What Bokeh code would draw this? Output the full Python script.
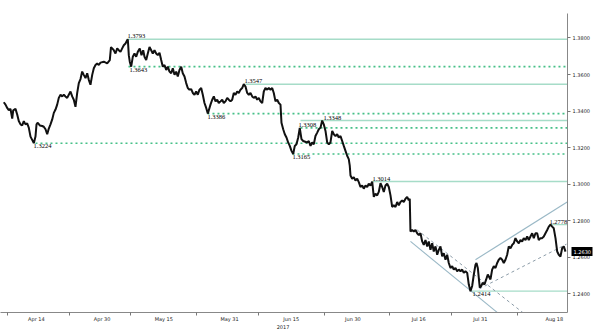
import numpy as np
import pandas as pd
from bokeh.plotting import figure
from bokeh.models import (Range1d, FixedTicker, DatetimeTickFormatter, NumeralTickFormatter, ColumnDataSource,
                          DatetimeAxis, LinearAxis)
from bokeh.core.properties import value
from bokeh.embed import file_html
from bokeh.resources import INLINE

START = "2017-04-06"

# price series: days since START, price
day = [0.07, 0.49, 0.90, 1.29, 1.70, 2.12, 2.36, 2.92, 3.33, 3.72, 4.14, 4.55, 4.94, 5.35, 5.76, 6.15, 6.57, 6.98, 7.37, 7.78,
       8.03, 8.34, 8.83, 9.41, 9.80, 10.22, 10.63, 11.02, 11.43, 11.85, 12.24, 12.65, 13.06, 13.45, 13.87, 14.28, 14.67, 15.08, 15.49, 15.88,
       16.30, 16.71, 17.10, 17.51, 17.93, 18.32, 18.73, 19.14, 19.53, 19.95, 20.36, 20.75, 21.16, 21.58, 21.97, 22.38, 22.79, 23.18, 23.60, 24.40,
       25.22, 25.86, 26.15, 26.44, 26.83, 27.24, 27.66, 28.05, 28.46, 28.87, 29.26, 29.68, 30.09, 30.24, 30.48, 30.72, 31.06, 31.45, 31.87, 32.28,
       32.67, 33.15, 33.57, 33.98, 34.30, 34.71, 35.10, 35.52, 35.93, 36.32, 36.73, 37.14, 37.53, 37.95, 38.36, 38.75, 39.16, 39.58, 39.97, 40.38,
       40.79, 41.18, 41.60, 42.01, 42.40, 42.81, 43.23, 43.61, 44.03, 44.44, 44.83, 45.24, 45.66, 46.05, 46.46, 46.87, 47.26, 47.68, 48.09, 48.48,
       48.89, 49.31, 49.70, 50.11, 50.35, 50.77, 51.16, 51.57, 51.98, 52.37, 52.79, 53.20, 53.59, 54.00, 54.42, 54.81, 55.22, 55.63, 56.02, 56.43,
       56.85, 57.24, 57.65, 58.06, 58.45, 58.87, 59.28, 59.67, 60.08, 60.50, 60.89, 61.30, 61.71, 62.10, 62.51, 62.93, 63.32, 63.73, 64.15, 64.54,
       64.95, 65.36, 65.75, 66.16, 66.58, 66.97, 67.38, 67.62, 68.04, 68.43, 68.84, 69.25, 69.64, 70.06, 70.47, 70.86, 71.27, 71.69, 72.07, 72.49,
       72.90, 73.87, 74.26, 74.68, 75.09, 75.48, 75.89, 76.31, 76.70, 77.11, 77.52, 77.91, 78.33, 78.74, 79.13, 79.54, 79.96, 80.35, 80.76, 81.17,
       81.56, 81.98, 82.39, 82.78, 83.19, 83.60, 83.99, 84.23, 84.41, 84.82, 85.21, 85.62, 86.04, 86.43, 86.84, 87.25, 87.64, 88.06, 88.47, 88.86,
       89.27, 89.69, 90.08, 90.49, 90.90, 91.29, 91.71, 92.12, 92.51, 92.92, 93.34, 93.73, 94.14, 94.55, 94.94, 95.36, 95.77, 96.16, 96.57, 96.98,
       97.37, 97.79, 98.20, 98.59, 98.83, 99.00, 99.42, 99.81, 100.22, 100.63, 101.02, 101.44, 101.85, 102.24, 102.65, 103.07, 103.46, 103.87, 104.28, 104.67,
       105.09, 105.50, 105.89, 106.30, 106.71, 107.10, 107.52, 107.93, 108.32, 108.73, 109.15, 109.54, 109.95, 110.36, 110.75, 111.17, 111.58, 111.97, 112.38, 112.80,
       113.19, 113.60, 114.01, 114.41, 114.82, 115.06, 115.38, 115.62, 115.86, 116.20, 116.59, 117.00, 117.42, 117.81, 118.46, 118.87, 119.27, 119.68, 120.09, 120.48,
       120.89, 121.31, 121.70, 122.11, 122.52, 122.91, 123.33, 123.74, 124.13, 124.54, 124.96, 125.35, 125.76, 126.17, 126.56, 126.98, 127.39, 127.78, 128.19, 128.61,
       129.00, 129.41, 129.82, 130.21, 130.63, 131.04, 131.43, 131.84, 132.26, 132.65, 133.06, 133.47, 133.86, 134.28, 134.69, 135.08, 135.49, 135.91, 136.30, 136.71]

price = [1.3448, 1.3435, 1.3417, 1.3404, 1.3412, 1.3359, 1.3404, 1.3412, 1.3381, 1.3345, 1.3327, 1.3321, 1.3345, 1.3327, 1.3332, 1.3309, 1.3260, 1.3242, 1.3224, 1.3260,
         1.3327, 1.3336, 1.3321, 1.3318, 1.3314, 1.3300, 1.3273, 1.3304, 1.3327, 1.3354, 1.3390, 1.3408, 1.3435, 1.3472, 1.3489, 1.3480, 1.3489, 1.3480, 1.3472, 1.3489,
         1.3507, 1.3480, 1.3462, 1.3423, 1.3499, 1.3553, 1.3575, 1.3616, 1.3598, 1.3580, 1.3607, 1.3571, 1.3544, 1.3598, 1.3634, 1.3652, 1.3661, 1.3652, 1.3665, 1.3670,
         1.3661, 1.3679, 1.3750, 1.3743, 1.3733, 1.3715, 1.3743, 1.3733, 1.3724, 1.3743, 1.3760, 1.3770, 1.3788, 1.3793, 1.3706, 1.3670, 1.3643, 1.3697, 1.3715, 1.3697,
         1.3724, 1.3743, 1.3706, 1.3733, 1.3697, 1.3679, 1.3715, 1.3751, 1.3733, 1.3715, 1.3733, 1.3715, 1.3706, 1.3719, 1.3679, 1.3643, 1.3652, 1.3625, 1.3643, 1.3616,
         1.3607, 1.3634, 1.3598, 1.3616, 1.3589, 1.3625, 1.3643, 1.3607, 1.3589, 1.3553, 1.3526, 1.3517, 1.3520, 1.3499, 1.3489, 1.3507, 1.3489, 1.3517, 1.3526, 1.3489,
         1.3444, 1.3417, 1.3386, 1.3417, 1.3435, 1.3462, 1.3480, 1.3453, 1.3462, 1.3444, 1.3453, 1.3462, 1.3444, 1.3453, 1.3472, 1.3462, 1.3453, 1.3462, 1.3499, 1.3489,
         1.3507, 1.3499, 1.3517, 1.3526, 1.3547, 1.3534, 1.3499, 1.3489, 1.3499, 1.3480, 1.3472, 1.3480, 1.3462, 1.3472, 1.3453, 1.3444, 1.3507, 1.3526, 1.3517, 1.3526,
         1.3517, 1.3526, 1.3499, 1.3453, 1.3462, 1.3444, 1.3435, 1.3336, 1.3300, 1.3273, 1.3255, 1.3228, 1.3209, 1.3182, 1.3165, 1.3209, 1.3218, 1.3255, 1.3308, 1.3246,
         1.3236, 1.3228, 1.3236, 1.3209, 1.3228, 1.3218, 1.3263, 1.3282, 1.3300, 1.3309, 1.3348, 1.3327, 1.3291, 1.3228, 1.3218, 1.3228, 1.3291, 1.3273, 1.3263, 1.3273,
         1.3255, 1.3263, 1.3236, 1.3209, 1.3182, 1.3155, 1.3137, 1.3101, 1.3047, 1.3029, 1.3038, 1.3020, 1.3029, 1.3011, 1.2984, 1.2992, 1.2975, 1.2992, 1.2984, 1.3002,
         1.2992, 1.3014, 1.2930, 1.2947, 1.2938, 1.2957, 1.3005, 1.2984, 1.2957, 1.2992, 1.3002, 1.2984, 1.2938, 1.2875, 1.2884, 1.2875, 1.2902, 1.2884, 1.2902, 1.2911,
         1.2902, 1.2920, 1.2930, 1.2911, 1.2920, 1.2740, 1.2749, 1.2740, 1.2749, 1.2731, 1.2721, 1.2731, 1.2686, 1.2667, 1.2694, 1.2659, 1.2686, 1.2640, 1.2676, 1.2631,
         1.2659, 1.2613, 1.2640, 1.2659, 1.2604, 1.2622, 1.2586, 1.2613, 1.2568, 1.2541, 1.2550, 1.2532, 1.2541, 1.2523, 1.2532, 1.2523, 1.2532, 1.2514, 1.2523, 1.2514,
         1.2450, 1.2414, 1.2442, 1.2505, 1.2559, 1.2568, 1.2541, 1.2487, 1.2433, 1.2442, 1.2460, 1.2450, 1.2478, 1.2505, 1.2478, 1.2532, 1.2550, 1.2541, 1.2568, 1.2586,
         1.2595, 1.2586, 1.2568, 1.2586, 1.2613, 1.2659, 1.2649, 1.2667, 1.2676, 1.2704, 1.2686, 1.2676, 1.2694, 1.2686, 1.2704, 1.2694, 1.2713, 1.2694, 1.2713, 1.2731,
         1.2704, 1.2731, 1.2731, 1.2694, 1.2704, 1.2704, 1.2713, 1.2731, 1.2749, 1.2767, 1.2778, 1.2767, 1.2758, 1.2704, 1.2631, 1.2613, 1.2604, 1.2650, 1.2659, 1.2630]

# horizontal support / resistance levels
level_price = [1.3793, 1.3643, 1.3547, 1.3386, 1.3224, 1.3308, 1.3348, 1.3165, 1.3014, 1.2778, 1.2414]
level_start = [30.16, 30.40, 58.87, 49.62, 7.78, 72.25, 72.25, 70.30, 89.76, 132.80, 113.60]
level_dotted = [False, True, False, True, True, True, False, True, False, False, False]
level_label = ["1.3793", "1.3643", "1.3547", "1.3386", "1.3224", "1.3308", "1.3348", "1.3165", "1.3014", "1.2778", "1.2414"]
label_day = [30.16, 30.65, 58.62, 49.62, 7.30, 71.76, 77.84, 70.30, 89.76, 132.80, 114.10]
label_above = [True, False, True, False, False, True, True, False, True, True, False]

# trend channels
trend_day0 = [99.00, 100.63, 114.81, 115.79]
trend_price0 = [1.2686, 1.2749, 1.2586, 1.2427]
trend_day1 = [120.24, 126.42, 137.12, 136.95]
trend_price1 = [1.2295, 1.2295, 1.2902, 1.2671]
trend_dashed = [False, True, False, True]

# axes
x_tick_dates = ["2017-04-14", "2017-04-30", "2017-05-15", "2017-05-31", "2017-06-15", "2017-06-30", "2017-07-16", "2017-07-31", "2017-08-18"]
x_minor_dates = ["2017-04-07", "2017-04-22", "2017-05-07", "2017-05-23", "2017-06-07", "2017-06-23", "2017-07-09", "2017-07-24", "2017-08-09"]
year_tick_date = "2017-06-13"
y_ticks = [1.24, 1.26, 1.28, 1.30, 1.32, 1.34, 1.36, 1.38]
last_price = 1.2630
x_start_day, x_end_day = -0.73, 137.2
y_min, y_max = 1.2297, 1.3934

DAY = 86400000.0
T0 = pd.Timestamp(START).value / 1e6


def to_ms(d):
    return T0 + np.asarray(d, dtype=float) * DAY


def date_ms(s):
    return pd.Timestamp(s).value / 1e6


x_end = float(to_ms(x_end_day))
p = figure(width=600, height=331, output_backend="svg", toolbar_location=None,
           x_range=Range1d(float(to_ms(x_start_day)), x_end), y_range=Range1d(y_min, y_max),
           y_axis_location="right", min_border_left=0, min_border_right=33,
           min_border_top=13, min_border_bottom=16, outline_line_color=None,
           background_fill_color="white", border_fill_color="white")
p.grid.visible = False

# levels
for dotted in (False, True):
    idx = [i for i in range(len(level_price)) if level_dotted[i] == dotted]
    src = ColumnDataSource(dict(x0=to_ms([level_start[i] for i in idx]), x1=[x_end] * len(idx),
                                y=[level_price[i] for i in idx]))
    if dotted:
        p.segment("x0", "y", "x1", "y", source=src, line_color="#46c088", line_width=1.6, line_dash="2 3")
    else:
        p.segment("x0", "y", "x1", "y", source=src, line_color="#a6dcc8", line_width=1.4)

# trend channels
for dashed in (False, True):
    idx = [i for i in range(len(trend_day0)) if trend_dashed[i] == dashed]
    src = ColumnDataSource(dict(x0=to_ms([trend_day0[i] for i in idx]), y0=[trend_price0[i] for i in idx],
                                x1=to_ms([trend_day1[i] for i in idx]), y1=[trend_price1[i] for i in idx]))
    if dashed:
        p.segment("x0", "y0", "x1", "y1", source=src, line_color="#8c9ca8", line_width=1, line_dash="3 3")
    else:
        p.segment("x0", "y0", "x1", "y1", source=src, line_color="#9ab8c6", line_width=1.1)

# price
p.line(to_ms(day), price, line_color="#111111", line_width=2)

# level labels
for above in (True, False):
    idx = [i for i in range(len(level_label)) if label_above[i] == above]
    src = ColumnDataSource(dict(x=to_ms([label_day[i] for i in idx]), y=[level_price[i] for i in idx],
                                t=[level_label[i] for i in idx]))
    p.text("x", "y", text="t", source=src, text_font=value("Liberation Serif"), text_font_size="6.5px",
           text_color="#000000", text_align="left",
           text_baseline="bottom" if above else "top", y_offset=-1 if above else 1)

# axes styling
xa = p.xaxis[0]
xa.ticker = FixedTicker(ticks=[date_ms(s) for s in x_tick_dates], minor_ticks=[date_ms(s) for s in x_minor_dates])
xa.formatter = DatetimeTickFormatter(days="%b %d", months="%b %d", hours="%b %d")
xa.major_tick_out = 0
xa.major_tick_in = 0
xa.minor_tick_out = 3
xa.minor_tick_in = 0
xa.minor_tick_line_color = "#777777"
xa.axis_line_color = "#888888"
xa.major_label_text_font = "DejaVu Sans"
xa.major_label_text_font_size = "5px"
xa.major_label_text_color = "#222222"
xa.major_label_standoff = 0

# second date axis carrying the year
xa2 = DatetimeAxis(ticker=FixedTicker(ticks=[date_ms(year_tick_date)], minor_ticks=[]),
                   formatter=DatetimeTickFormatter(days="%Y", months="%Y", hours="%Y"),
                   axis_line_color=None, major_tick_line_color=None, minor_tick_line_color=None,
                   major_tick_out=0, major_tick_in=0, major_label_standoff=0,
                   major_label_text_font="DejaVu Sans", major_label_text_font_size="5px",
                   major_label_text_color="#222222")
p.add_layout(xa2, "below")

ya = p.yaxis[0]
ya.ticker = FixedTicker(ticks=y_ticks, minor_ticks=[])
ya.formatter = NumeralTickFormatter(format="0.0000")
ya.major_tick_out = 3
ya.major_tick_in = 0
ya.major_tick_line_color = "#777777"
ya.axis_line_color = "#888888"
ya.major_label_text_font = "DejaVu Sans"
ya.major_label_text_font_size = "5px"
ya.major_label_text_color = "#222222"
ya.major_label_standoff = 2

# last-price tag: an extra stacked right axis with one tick; its thick inward tick forms the black tag
ya2 = LinearAxis(ticker=FixedTicker(ticks=[last_price], minor_ticks=[]),
                 formatter=NumeralTickFormatter(format="0.0000"),
                 axis_line_color=None, minor_tick_line_color=None,
                 major_tick_line_color="black", major_tick_line_width=9, major_tick_line_cap="butt",
                 major_tick_out=0, major_tick_in=21,
                 major_label_text_font="DejaVu Sans", major_label_text_font_size="5px",
                 major_label_text_color="white")
try:
    ya2.major_label_standoff = -19
except Exception:
    ya2.major_label_standoff = 0
    ya2.major_label_text_color = "black"
p.add_layout(ya2, "right")

open("out.html", "w").write(file_html(p, INLINE))
